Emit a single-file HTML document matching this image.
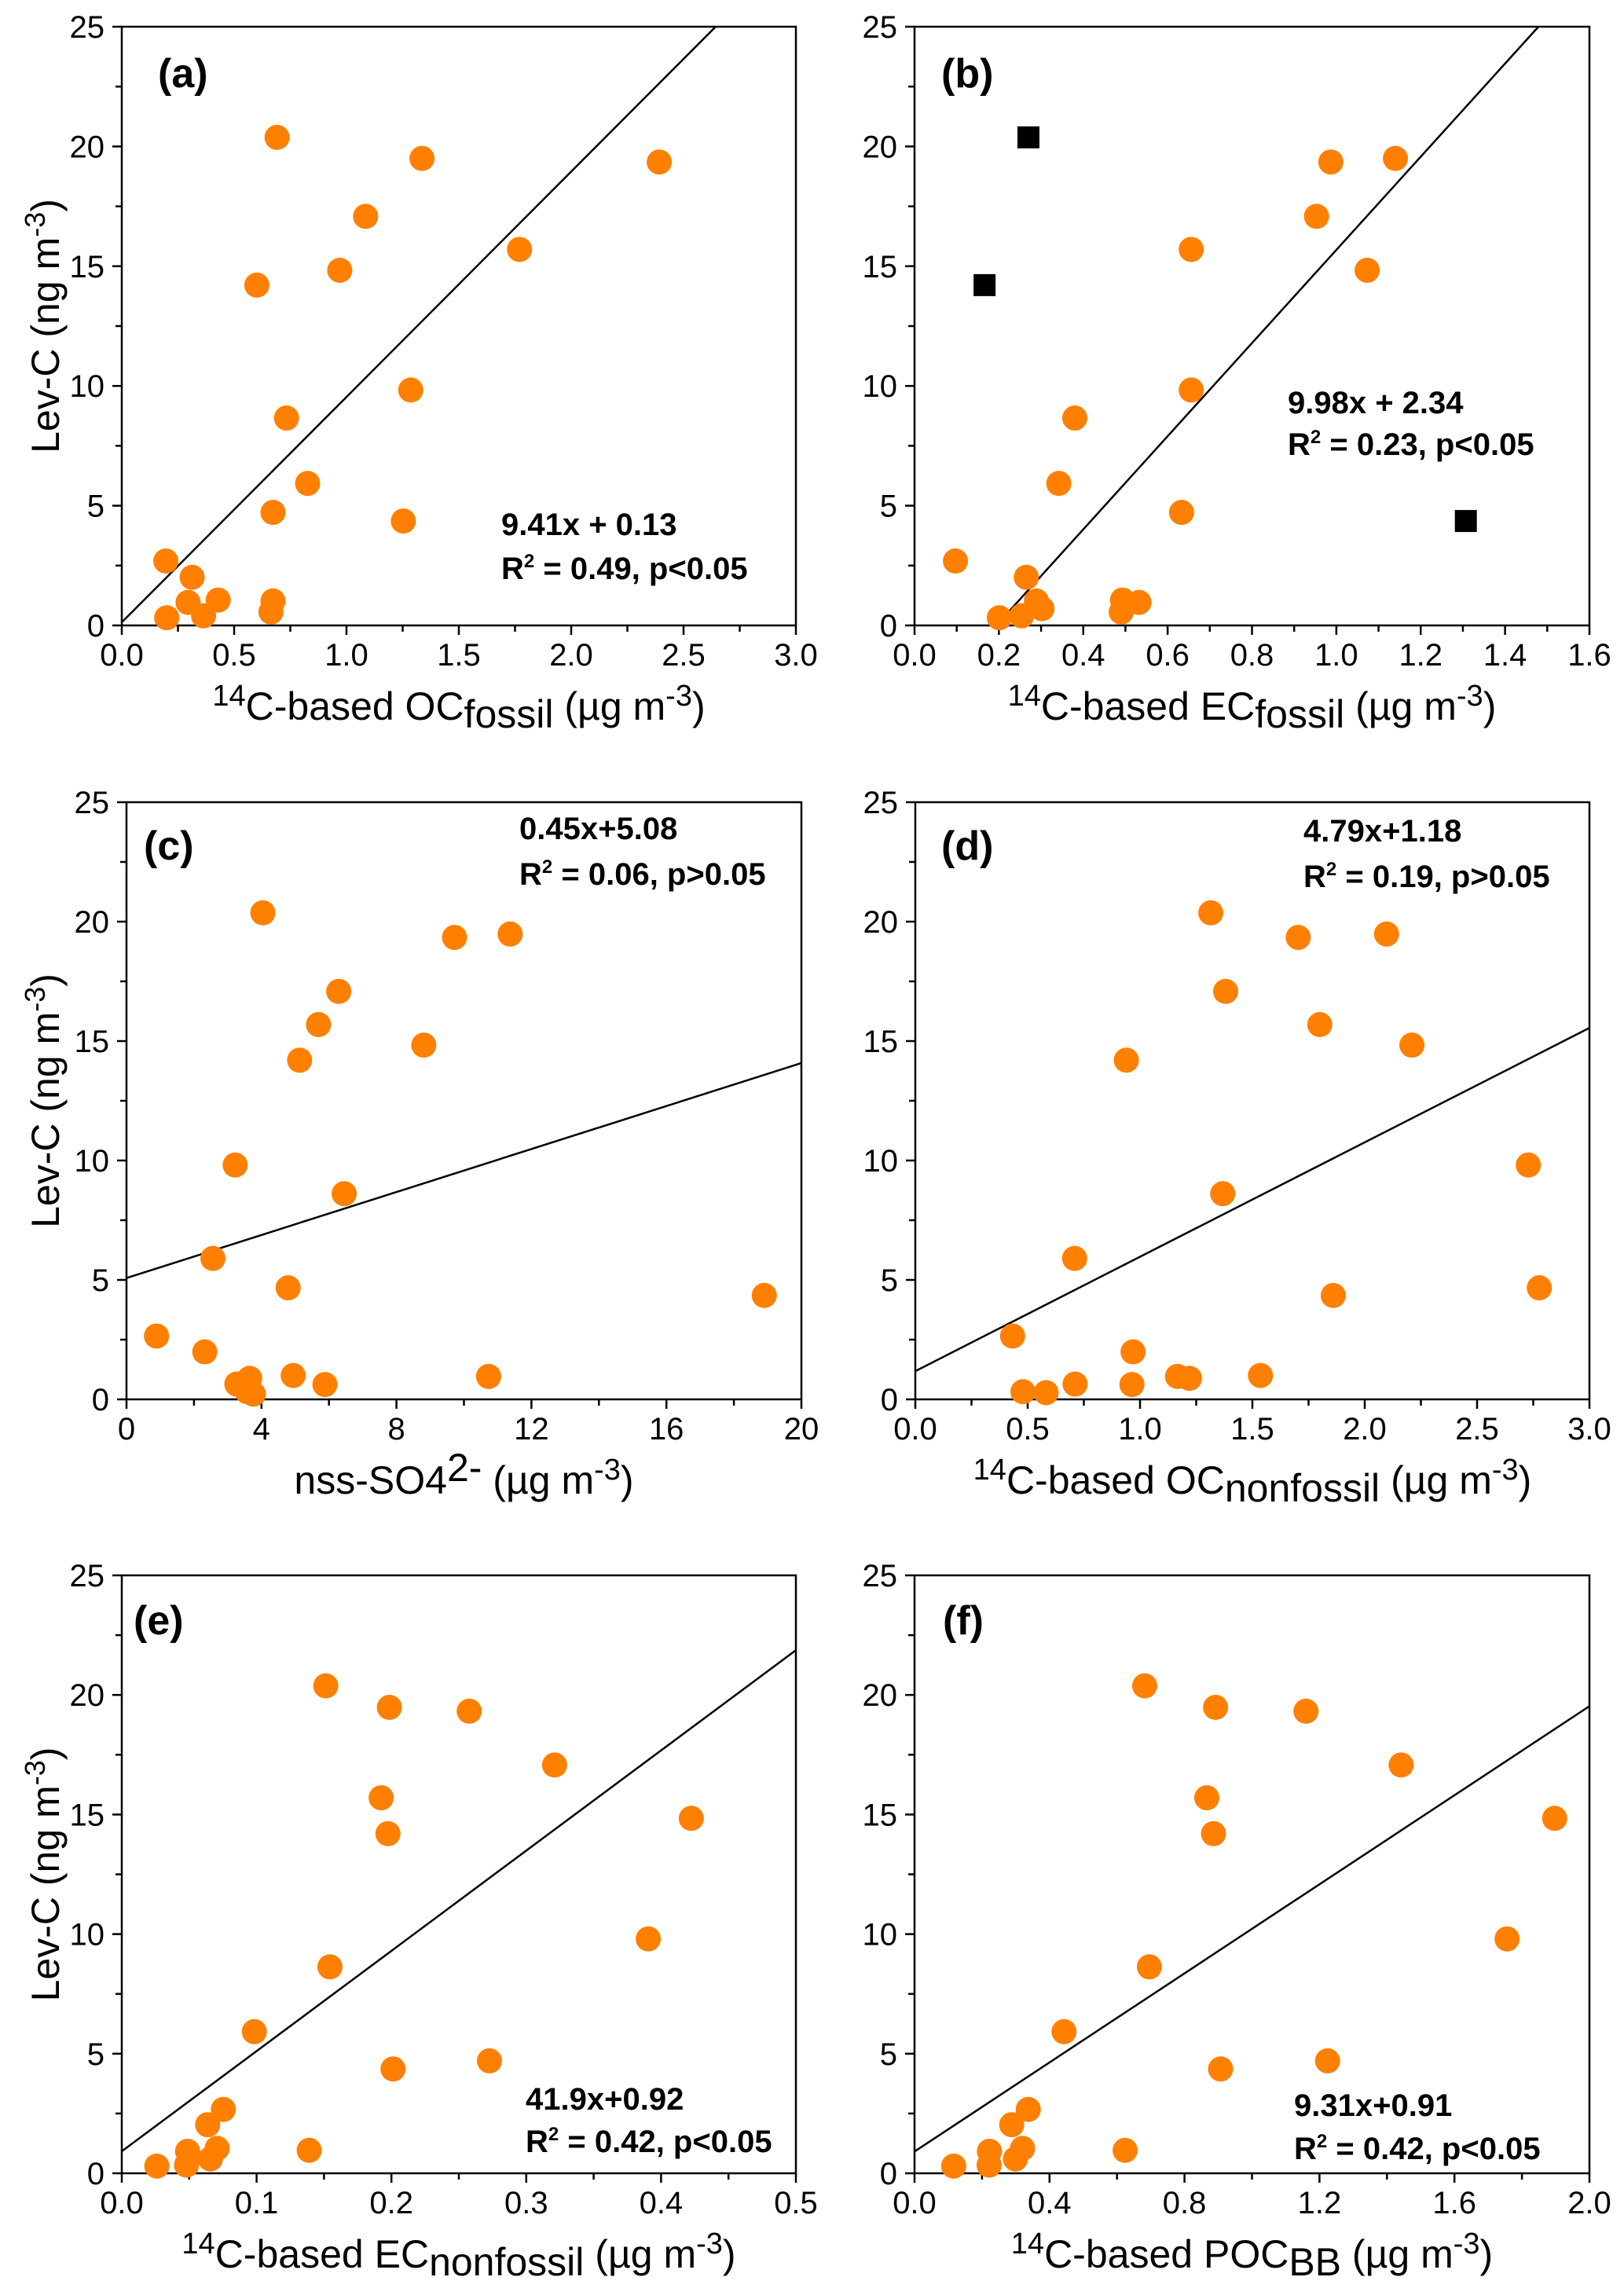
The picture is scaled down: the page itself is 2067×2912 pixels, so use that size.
<!DOCTYPE html>
<html><head><meta charset="utf-8"><style>
html,body{margin:0;padding:0;background:#fff}
svg{display:block}
text{font-family:"Liberation Sans",Arial,sans-serif;fill:#000}
</style></head><body>
<svg id="fig" width="2067" height="2912" viewBox="0 0 2067 2912" xmlns="http://www.w3.org/2000/svg"></svg>
<script>
// Shared y values (Lev-C, ng m-3)
const levC = [20.38,19.5,19.35,17.08,15.7,14.83,14.21,9.83,8.66,5.93,4.72,4.36,2.69,2.01,1.06,1.02,0.96,0.56,0.40,0.32];
// panel a: OC fossil
const xA = [0.691,1.336,2.392,1.085,1.770,0.970,0.601,1.286,0.733,0.827,0.673,1.253,0.196,0.313,0.429,0.673,0.295,0.664,0.364,0.200];
// panel b: EC fossil (circles) + outliers (squares)
const xB = [1.140,0.987,0.953,0.656,1.073,0.656,0.380,0.342,0.633,0.097,0.265,0.493,0.289,0.532,0.490,0.302,0.254,0.201];
const yB = [19.5,19.35,17.08,15.7,14.83,9.83,8.66,5.93,4.72,2.69,2.01,1.06,1.02,0.96,0.56,0.70,0.40,0.32];
const xBsq = [0.270,0.166,1.307];
const yBsq = [20.38,14.21,4.36];
// panel c: nss-SO4
const xC = [4.04,11.37,9.72,6.29,5.69,8.81,5.13,3.22,6.45,2.56,4.79,18.9,0.89,2.32,4.94,10.73,3.65,3.27,5.88,3.58,3.76];
const yC = [20.37,19.48,19.34,17.08,15.69,14.83,14.2,9.81,8.61,5.9,4.67,4.35,2.65,1.99,1.0,0.96,0.88,0.64,0.62,0.32,0.22];
// panel d: OC nonfossil
const xD = [1.315,2.097,1.704,1.381,1.800,2.210,0.939,2.728,1.368,0.709,2.777,1.860,0.433,0.969,1.536,1.167,1.220,0.711,0.964,0.479,0.582];
const yD = [20.37,19.48,19.34,17.08,15.69,14.83,14.2,9.81,8.61,5.9,4.67,4.35,2.65,1.99,1.0,0.96,0.88,0.64,0.62,0.32,0.28];
// panel e: EC nonfossil
const xE = [0.1513,0.1985,0.2577,0.321,0.1924,0.4224,0.1974,0.3905,0.1544,0.0983,0.2727,0.2012,0.0753,0.0637,0.139,0.0707,0.0488,0.0657,0.026,0.048];
const yEF = [20.38,19.48,19.32,17.07,15.7,14.84,14.2,9.8,8.63,5.92,4.70,4.36,2.67,2.03,0.96,1.04,0.92,0.6,0.3,0.34];
// panel f: POC BB
const xF = [0.682,0.892,1.160,1.442,0.866,1.897,0.886,1.756,0.696,0.443,1.224,0.907,0.337,0.288,0.624,0.320,0.222,0.299,0.116,0.221];
// regression lines [slope, intercept]
const fitA = [9.41,0.13], fitB = [19.45,-3.77], fitC = [0.45,5.08], fitD = [4.79,1.18], fitE = [41.9,0.92], fitF = [9.31,0.91];
// x tick labels
const ticksA = ["0.0","0.5","1.0","1.5","2.0","2.5","3.0"];
const ticksB = ["0.0","0.2","0.4","0.6","0.8","1.0","1.2","1.4","1.6"];
const ticksC = ["0","4","8","12","16","20"];
const ticksD = ticksA;
const ticksE = ["0.0","0.1","0.2","0.3","0.4","0.5"];
const ticksF = ["0.0","0.4","0.8","1.2","1.6","2.0"];
const yTicks = ["0","5","10","15","20","25"];

const NS="http://www.w3.org/2000/svg";
const svg=document.getElementById('fig');
function el(tag,attrs,parent){const e=document.createElementNS(NS,tag);for(const k in attrs)e.setAttribute(k,attrs[k]);(parent||svg).appendChild(e);return e;}

function panel(id,geo,xmax,ticks,xs,ys,fit,label,eq,r2,xtitle,showY,sq){
  const g=el('g',{});
  
  
  const L=geo[0],T=geo[1],R=geo[2],B=geo[3];
  const sx=v=>L+(v/xmax)*(R-L), sy=v=>B-(v/25)*(B-T);
  const box=el('rect',{x:L,y:T,width:R-L,height:B-T,fill:'none',stroke:'#000','stroke-width':2.5},g);
  
  
  const nMaj=ticks.length-1;
  for(let i=0;i<=nMaj*2;i++){
    const v=xmax*i/(nMaj*2), x=sx(v), major=i%2===0;
    const t=el('line',{x1:x,y1:B,x2:x,y2:B+(major?12:8),stroke:'#000','stroke-width':2.5},g);
    
    
    if(major){
      const tl=el('text',{x:x,y:B+51,'font-size':40,'text-anchor':'middle'},g);
      tl.textContent=ticks[i/2];
      
      
    }
  }
  for(let i=0;i<=10;i++){
    const v=2.5*i,y=sy(v),major=i%2===0;
    const t=el('line',{x1:L-(major?12:8),y1:y,x2:L,y2:y,stroke:'#000','stroke-width':2.5},g);
    
    
    if(major){
      const tl=el('text',{x:L-22,y:y+14,'font-size':40,'text-anchor':'end'},g);
      tl.textContent=yTicks[i/2];
      
      
    }
  }
  let x0=Math.max(0,(0-fit[1])/fit[0]); if(fit[1]>=0)x0=0;
  let x1=Math.min(xmax,(25-fit[1])/fit[0]);
  const ln=el('line',{x1:sx(x0),y1:sy(fit[0]*x0+fit[1]),x2:sx(x1),y2:sy(fit[0]*x1+fit[1]),stroke:'#000','stroke-width':2.5},g);
  
  
  for(let i=0;i<xs.length;i++){
    const c=el('circle',{cx:sx(xs[i]),cy:sy(ys[i]),r:16,fill:'#FF8000'},g);
    
    
  }
  if(sq){for(let i=0;i<sq[0].length;i++){
    const s=el('rect',{x:sx(sq[0][i])-14,y:sy(sq[1][i])-14,width:28,height:28,fill:'#000'},g);
    
    
  }}
  const pl=el('text',{x:label[0],y:label[1],'font-size':52,'font-weight':'bold'},g);
  pl.textContent='('+id+')';
  
  
  const e1=el('text',{x:eq[0],y:eq[1],'font-size':40,'font-weight':'bold'},g);
  e1.textContent=eq[2];
  
  
  const e2=el('text',{x:eq[0],y:eq[3],'font-size':40,'font-weight':'bold'},g);
  e2.innerHTML='R<tspan font-size="24" dy="-15">2</tspan><tspan dy="15"> = '+r2+'</tspan>';
  
  
  const xt=el('text',{x:(L+R)/2,y:B+120,'font-size':50,'text-anchor':'middle'},g);
  xt.innerHTML=xtitle;
  
  
  if(showY){
    const cy=(T+B)/2;
    const yt=el('text',{x:0,y:0,'font-size':50,'text-anchor':'middle',transform:'translate(75,'+cy+') rotate(-90)'},g);
    yt.innerHTML='Lev-C (ng m<tspan font-size="36" dy="-18">-3</tspan><tspan dy="18">)</tspan>';
    
    
  }
}
const sup14='<tspan font-size="38" dy="-18">14</tspan><tspan dy="18">C-based </tspan>';
const u='<tspan dy="-10"> (µg m</tspan><tspan font-size="38" dy="-18">-3</tspan><tspan dy="18">)</tspan>';
panel('a',[155,34,1013,796],3.0,ticksA,xA,levC,fitA,[201,111],[638,681,'9.41x + 0.13',737],'0.49, p<0.05',sup14+'<tspan>OC</tspan><tspan dy="10">fossil</tspan>'+u,true,null);
panel('b',[1164,34,2023,796],1.6,ticksB,xB,yB,fitB,[1198,111],[1639,526,'9.98x + 2.34',579],'0.23, p<0.05',sup14+'<tspan>EC</tspan><tspan dy="10">fossil</tspan>'+u,false,[xBsq,yBsq]);
panel('c',[161,1021,1020,1781],20,ticksC,xC,yC,fitC,[183,1094],[661,1068,'0.45x+5.08',1126],'0.06, p>0.05','nss-SO<tspan>4</tspan><tspan dy="-16">2-</tspan><tspan dy="16"> (µg m</tspan><tspan font-size="38" dy="-18">-3</tspan><tspan dy="18">)</tspan>',true,null);
panel('d',[1165,1021,2023,1781],3.0,ticksD,xD,yD,fitD,[1198,1094],[1659,1071,'4.79x+1.18',1129],'0.19, p>0.05',sup14+'<tspan>OC</tspan><tspan dy="10">nonfossil</tspan>'+u,false,null);
panel('e',[155,2005,1013,2766],0.5,ticksE,xE,yEF,fitE,[170,2080],[669,2685,'41.9x+0.92',2739],'0.42, p<0.05',sup14+'<tspan>EC</tspan><tspan dy="10">nonfossil</tspan>'+u,true,null);
panel('f',[1164,2005,2023,2766],2.0,ticksF,xF,yEF,fitF,[1200,2080],[1647,2693,'9.31x+0.91',2748],'0.42, p<0.05',sup14+'<tspan>POC</tspan><tspan dy="10">BB</tspan>'+u,false,null);
</script>
</body></html>
